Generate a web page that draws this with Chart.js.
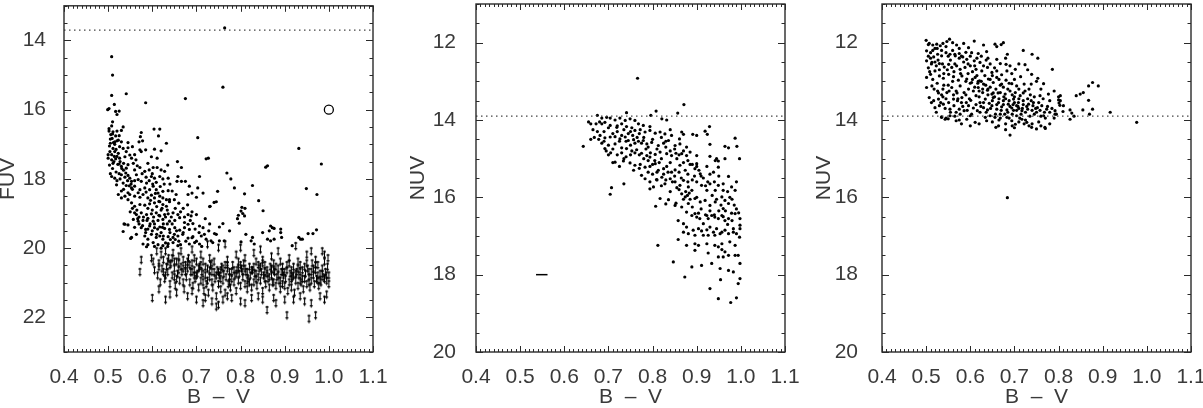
<!DOCTYPE html>
<html><head><meta charset="utf-8">
<script src="https://cdn.jsdelivr.net/npm/chart.js@4.4.1/dist/chart.umd.min.js"></script>
<style>
html,body{margin:0;padding:0;background:#fff;width:1203px;height:408px;overflow:hidden}
canvas{position:absolute;top:0}
</style></head><body>
<canvas id="c1" width="400" height="408" style="left:0px"></canvas>
<canvas id="c2" width="400" height="408" style="left:400px"></canvas>
<canvas id="c3" width="403" height="408" style="left:800px"></canvas>
<script>
// ---------------- data ----------------
const bvTicks = [0.4,0.5,0.6,0.7,0.8,0.9,1.0,1.1];
const fuvTicks = [14,16,18,20,22];
const nuvTicks = [12,14,16,18,20];
const fuvLimitLine = 13.7;
const nuvLimitLine = 13.9;
const fuvErrEllipse = [[1.0,16.0]];
const nuvErrBar = [[0.536,18.0],[0.562,18.0]];

// Panel 1: FUV detections (B-V, FUV)
const fuvDots = [
[0.764,13.64],[0.508,14.47],[0.51,15.0],[0.508,15.59],[0.514,15.85],[0.502,15.97],[0.499,16.0],[0.517,16.05],[0.525,16.04],[0.52,16.14],[0.541,15.54],[0.585,15.8],[0.675,15.68],[0.76,15.35],[0.703,16.81],[0.722,17.42],[0.727,17.4],[0.932,17.12],[0.983,17.57],[0.857,17.66],[0.861,17.62],[0.769,17.83],[0.778,18.0],[0.786,18.26],[0.827,18.19],[0.809,18.43],[0.949,18.28],[0.973,18.45],[0.841,18.63],[0.851,18.92],[0.81,18.85],[0.805,19.0],[0.793,19.15],[0.797,19.28],[0.748,18.36],[0.74,18.68],[0.73,18.8],
[0.508,16.47],[0.502,16.62],[0.511,16.64],[0.52,16.62],[0.534,16.5],[0.517,16.76],[0.509,16.83],[0.523,16.88],[0.515,16.93],[0.505,16.97],[0.53,16.93],[0.526,17.07],[0.511,17.12],[0.504,17.21],[0.515,17.21],[0.523,17.26],[0.534,17.12],[0.545,17.1],[0.555,17.07],[0.541,17.21],[0.549,17.31],[0.5,17.4],[0.508,17.45],[0.517,17.42],[0.526,17.4],[0.538,17.36],[0.553,17.4],[0.563,17.45],[0.575,16.66],[0.573,16.78],[0.578,16.9],[0.57,16.93],[0.572,17.16],[0.575,17.21],[0.585,17.16],[0.604,16.56],[0.617,16.56],[0.614,16.76],[0.605,17.14],[0.62,17.19],[0.632,16.97],[0.598,17.36],[0.611,17.4],[0.511,17.55],[0.525,17.57],[0.53,17.64],[0.541,17.69],[0.545,17.59],[0.56,17.74],[0.572,17.67],[0.583,17.78],[0.593,17.74],[0.602,17.67],[0.611,17.67],[0.62,17.74],[0.628,17.78],[0.508,17.93],[0.515,17.98],[0.53,17.88],[0.54,17.83],[0.549,17.98],[0.553,18.07],[0.564,17.88],[0.568,18.02],[0.575,18.07],[0.587,18.12],[0.598,17.93],[0.605,17.98],[0.617,17.93],[0.624,18.0],[0.636,17.98],[0.519,18.17],[0.534,18.12],[0.541,18.19],[0.553,18.26],[0.56,18.21],[0.572,18.31],[0.583,18.26],[0.594,18.31],[0.602,18.21],[0.609,18.31],[0.613,18.41],[0.624,18.36],[0.636,18.34],[0.523,18.45],[0.53,18.55],[0.538,18.5],[0.549,18.45],[0.56,18.5],[0.572,18.53],[0.579,18.45],[0.59,18.55],[0.598,18.47],[0.605,18.55],[0.617,18.5],[0.624,18.55],[0.632,18.6],[0.639,18.6],
[0.657,17.5],[0.666,17.67],[0.658,17.93],[0.656,18.07],[0.666,18.07],[0.675,18.07],[0.684,18.21],[0.703,18.26],[0.707,17.93],[0.654,18.45],[0.681,18.45],[0.69,18.41],[0.7,18.53],[0.715,18.41],
[0.553,18.69],[0.56,18.79],[0.572,18.74],[0.583,18.76],[0.594,18.72],[0.605,18.69],[0.617,18.66],[0.624,18.74],[0.632,18.79],[0.639,18.66],[0.538,19.31],[0.545,19.33],[0.534,19.52],[0.56,18.98],[0.564,19.03],[0.575,18.98],[0.587,19.03],[0.598,19.01],[0.609,18.98],[0.617,19.07],[0.628,19.03],[0.636,19.01],[0.647,18.98],[0.658,19.03],[0.681,19.03],[0.688,19.07],[0.7,19.03],[0.557,19.17],[0.568,19.22],[0.579,19.2],[0.59,19.14],[0.602,19.22],[0.613,19.2],[0.624,19.17],[0.639,19.22],[0.651,19.2],[0.662,19.12],[0.673,19.26],[0.681,19.31],[0.692,19.29],[0.553,19.69],[0.564,19.6],[0.575,19.41],[0.585,19.46],[0.594,19.36],[0.605,19.41],[0.617,19.39],[0.628,19.43],[0.639,19.46],[0.651,19.41],[0.662,19.48],[0.673,19.41],[0.684,19.46],[0.707,19.36],[0.715,19.41],[0.583,19.65],[0.59,19.74],[0.598,19.6],[0.609,19.69],[0.617,19.65],[0.624,19.74],[0.636,19.67],[0.647,19.69],[0.658,19.65],[0.669,19.6],[0.681,19.71],[0.692,19.67],[0.711,19.65],[0.722,19.74],[0.733,19.79],[0.745,19.6],[0.579,19.88],[0.587,19.96],[0.602,19.84],[0.613,19.9],[0.624,19.93],[0.636,19.87],[0.647,19.84],[0.658,19.93],[0.684,19.88],[0.696,19.84],[0.707,19.88],[0.737,19.84],[0.752,19.79],[0.763,19.79],
[0.745,18.66],[0.731,18.79],[0.76,19.29],[0.752,19.39],[0.741,19.58],[0.775,19.5],[0.812,19.6],[0.824,19.79],[0.801,19.82],[0.803,18.82],[0.801,18.93],[0.795,19.05],[0.809,19.07],
[0.868,19.36],[0.872,19.41],[0.876,19.43],[0.865,19.5],[0.891,19.45],[0.891,19.55],[0.893,19.69],[0.85,19.55],[0.861,19.74],[0.868,19.79],[0.876,19.74],[0.917,19.93],[0.932,19.69],[0.936,19.74],[0.94,19.74],[0.953,19.58],[0.964,19.58],[0.972,19.47],[0.827,19.69],[0.831,19.88],
[0.536,19.3],[0.551,19.72],
[0.555,18.85],[0.565,18.9],[0.57,19.1],[0.58,19.1],[0.59,18.85],[0.6,18.9],[0.595,19.3],[0.605,19.3],[0.615,19.05],[0.62,18.9],[0.625,19.3],[0.63,19.1],[0.61,18.8],[0.585,19.55],[0.6,19.5],[0.62,19.55],[0.64,19.55],[0.63,19.85],[0.65,19.6],[0.66,19.8],[0.545,18.6],[0.55,18.95],[0.56,19.4],[0.57,19.3],[0.59,19.45],[0.61,19.6],[0.625,19.65],[0.645,19.3],[0.655,19.5],[0.67,19.55],
[0.503,17.6],[0.51,17.7],[0.518,17.8],[0.505,17.85],[0.513,17.5],[0.52,17.35],[0.527,17.5],[0.535,17.55],[0.535,17.75],[0.545,17.9],[0.548,18.2],[0.555,18.3],[0.53,18.35],[0.527,18.0],[0.51,16.7],[0.505,16.85],[0.515,17.0],[0.52,16.9],[0.5,17.3],
[0.502,16.55],[0.506,16.72],[0.512,16.95],[0.518,17.15],[0.503,17.05],[0.508,17.3],[0.514,17.35],[0.522,17.58],[0.531,17.7],[0.538,17.95],[0.544,18.05],[0.552,18.15],[0.557,17.55],[0.566,17.62],[0.577,17.85],[0.586,17.95],[0.593,18.05],[0.601,18.15],[0.609,18.1],[0.618,18.22],[0.627,18.15],[0.56,18.05],[0.568,18.4],[0.586,18.38],[0.596,18.62],[0.607,18.42],[0.615,18.65],[0.622,18.85],[0.634,18.9],[0.643,19.1],[0.652,18.85],[0.664,18.95],[0.673,19.1],[0.686,19.2],[0.697,19.45],[0.706,19.55],[0.718,19.6],[0.728,19.5],[0.567,19.15],[0.578,19.35],[0.588,19.2],[0.603,19.1],[0.612,19.45],[0.623,19.4],[0.634,19.3],[0.641,19.75],[0.652,19.75],[0.664,19.9],[0.676,19.8],[0.69,19.7],[0.7,19.8],[0.712,19.95],[0.59,19.9],[0.605,19.95],[0.62,20.0],[0.635,19.95],[0.525,17.85],[0.52,18.05],[0.535,18.3],[0.545,18.4],[0.525,16.75],[0.51,16.35],[0.53,16.6],[0.545,16.95],[0.56,17.3],[0.59,17.55],[0.6,17.85],[0.635,17.6],[0.64,18.15],[0.645,18.35],[0.65,18.6],[0.66,18.7],[0.67,18.85],[0.68,18.75],[0.69,18.95],[0.72,19.15],[0.73,19.3]
];

// Panel 1: FUV upper limits (B-V, FUV)
const fuvLimits = [
[0.602,20.3],[0.605,20.55],[0.598,20.2],[0.61,20.0],[0.612,20.7],[0.615,20.35],[0.618,20.9],[0.62,20.1],[0.622,20.5],[0.625,20.25],[0.628,20.8],[0.63,20.0],[0.632,20.45],[0.635,20.6],[0.637,20.2],[0.64,20.95],[0.642,20.35],[0.645,20.7],[0.647,20.05],[0.65,20.5],[0.652,21.0],[0.655,20.3],[0.657,20.65],[0.66,20.15],[0.662,20.85],[0.665,20.45],[0.667,20.6],[0.67,20.25],[0.672,21.1],[0.675,20.4],[0.677,20.75],[0.68,20.5],[0.682,20.2],[0.685,20.9],[0.687,20.6],[0.69,20.35],[0.692,21.0],[0.695,20.55],[0.697,20.8],[0.7,20.3],[0.702,20.65],[0.705,21.05],[0.707,20.45],[0.71,20.85],[0.712,20.6],[0.715,20.3],[0.717,21.15],[0.72,20.7],[0.722,20.95],[0.725,20.5],[0.727,21.2],[0.73,20.75],[0.732,20.4],[0.735,20.9],[0.737,21.05],[0.74,20.6],[0.742,20.8],[0.745,21.3],[0.747,20.55],[0.75,20.95],[0.752,20.7],[0.755,21.1],[0.757,20.45],[0.76,20.85],[0.762,20.65],[0.765,21.2],[0.767,20.75],[0.77,20.5],[0.772,20.95],[0.775,20.6],[0.777,21.05],[0.78,20.8],[0.782,20.4],[0.785,20.9],[0.787,20.7],[0.79,21.15],[0.792,20.55],[0.795,20.85],[0.797,20.65],[0.8,21.0],[0.802,20.5],[0.805,20.75],[0.807,20.35],[0.81,20.95],[0.812,20.6],[0.815,21.1],[0.817,20.8],[0.82,20.45],[0.822,20.7],[0.825,21.05],[0.827,20.55],[0.83,20.9],[0.832,20.65],[0.835,20.3],[0.837,21.0],[0.84,20.75],[0.842,20.5],[0.845,20.85],[0.847,20.6],[0.85,21.15],[0.852,20.7],[0.855,20.4],[0.857,20.95],[0.86,20.55],[0.862,20.8],[0.865,21.05],[0.867,20.45],[0.87,20.7],[0.872,20.9],[0.875,20.35],[0.877,20.6],[0.88,21.0],[0.882,20.75],[0.885,20.5],[0.887,20.85],[0.89,21.1],[0.892,20.6],[0.895,20.95],[0.897,20.7],[0.9,21.0],[0.902,20.8],[0.905,20.55],[0.907,21.15],[0.91,20.9],[0.912,20.65],[0.915,21.05],[0.917,20.75],[0.92,20.45],[0.922,21.2],[0.925,20.85],[0.927,20.6],[0.93,21.0],[0.932,20.7],[0.935,20.4],[0.937,20.9],[0.94,20.55],[0.942,21.1],[0.945,20.8],[0.947,20.65],[0.95,20.95],[0.952,20.5],[0.955,20.75],[0.957,21.05],[0.96,20.85],[0.962,20.35],[0.965,20.7],[0.967,20.95],[0.97,20.55],[0.972,20.8],[0.975,20.4],[0.977,21.0],[0.98,20.65],[0.982,20.9],[0.985,20.5],[0.987,20.75],[0.99,20.3],[0.992,20.6],[0.995,20.85],[0.997,20.45],[1.0,20.7],[1.0,20.95],[0.998,20.2],
[0.64,20.4],[0.66,20.55],[0.68,20.3],[0.7,20.7],[0.72,20.45],[0.74,20.3],[0.76,20.5],[0.78,20.6],[0.8,20.4],[0.82,20.9],[0.84,20.4],[0.86,20.65],[0.88,20.45],[0.9,20.6],[0.92,20.7],[0.94,20.8],[0.96,20.6],[0.98,20.85],[0.655,20.8],[0.675,20.6],[0.695,20.2],[0.715,20.9],[0.735,20.6],[0.755,20.8],[0.775,20.9],[0.795,20.5],[0.815,20.6],[0.835,20.8],[0.855,20.8],[0.875,20.9],[0.895,20.45],[0.915,20.8],[0.935,20.85],[0.955,20.9],[0.975,20.7],[0.995,20.7],
[0.645,20.2],[0.665,20.0],[0.69,19.95],[0.71,20.1],[0.73,20.2],[0.75,19.9],[0.77,20.25],[0.79,20.1],[0.81,20.2],[0.83,20.05],[0.85,20.25],[0.87,20.15],[0.89,20.3],[0.91,20.2],[0.93,20.3],[0.95,20.1],[0.97,20.25],[0.99,20.1],[0.725,19.8],[0.765,19.8],[0.8,19.9],[0.845,19.95],[0.885,20.0],[0.925,19.85],[0.96,20.0],[0.985,20.0],
[0.572,20.6],[0.6,21.35],[0.615,21.1],[0.64,21.25],[0.655,21.2],[0.68,21.3],[0.7,21.4],[0.715,21.5],[0.735,21.45],[0.745,21.6],[0.75,21.55],[0.78,21.35],[0.8,21.45],[0.81,21.5],[0.84,21.3],[0.86,21.7],[0.88,21.5],[0.9,21.4],[0.905,21.85],[0.92,21.4],[0.935,21.3],[0.955,21.95],[0.96,21.5],[0.97,21.85],[0.99,21.4],[0.995,21.25],[0.77,21.3],[0.825,21.35],[0.875,21.35],[0.945,21.45],[0.63,21.4],[0.69,21.15],[0.72,21.35],[0.76,21.4],[0.85,21.4],[0.98,21.3],[0.575,20.25],
[0.625,20.6],[0.635,20.3],[0.65,20.75],[0.66,20.35],[0.67,20.9],[0.685,20.4],[0.695,20.7],[0.705,20.5],[0.715,20.65],[0.725,20.85],[0.735,20.35],[0.745,20.7],[0.755,20.55],[0.765,20.4],[0.775,20.75],[0.785,20.55],[0.795,20.3],[0.805,20.6],[0.815,20.85],[0.825,20.55],[0.835,20.65],[0.845,20.45],[0.855,20.6],[0.865,20.75],[0.875,20.55],[0.885,20.7],[0.895,20.6],[0.905,20.4],[0.915,20.55],[0.925,20.65],[0.935,20.6],[0.945,20.45],[0.955,20.6],[0.965,20.5],[0.975,20.85],[0.985,20.65],[0.99,20.8],[0.97,20.4],[0.95,20.35],[0.93,20.5],[0.91,20.35],[0.89,20.85],[0.87,20.5],[0.85,20.35],[0.83,20.45],[0.81,20.5],[0.79,20.65],[0.77,20.4],[0.75,20.6],[0.73,20.55],[0.71,20.4],[0.69,20.6],[0.67,20.5],[0.65,20.3],[0.63,20.7],[0.615,20.45]
];

// Panel 2: NUV vs B-V (faint sample)
const nuvDotsA = [
[0.766,12.92],[0.741,13.81],[0.643,14.68],
[0.696,13.93],[0.704,13.95],[0.715,14.0],[0.726,13.95],[0.738,14.01],[0.749,13.97],[0.76,14.01],[0.768,14.1],[0.779,14.14],[0.794,14.17],[0.821,13.97],[0.832,14.0],[0.808,13.77],[0.796,13.88],[0.857,13.82],[0.871,13.6],
[0.685,14.1],[0.692,14.06],[0.704,14.14],[0.719,14.19],[0.73,14.1],[0.741,14.17],[0.753,14.2],[0.76,14.27],[0.772,14.25],[0.783,14.31],[0.794,14.27],[0.806,14.34],[0.817,14.31],[0.828,14.36],[0.84,14.25],[0.843,14.4],[0.866,14.31],[0.87,14.37],[0.891,14.37],[0.919,14.29],[0.929,14.17],[0.924,14.37],[0.987,14.47],
[0.681,14.4],[0.692,14.46],[0.704,14.44],[0.715,14.43],[0.726,14.49],[0.738,14.44],[0.745,14.53],[0.757,14.51],[0.768,14.55],[0.779,14.53],[0.787,14.62],[0.798,14.58],[0.813,14.66],[0.825,14.6],[0.836,14.53],[0.851,14.66],[0.862,14.62],[0.861,14.49],[0.877,14.7],[0.9,14.4],[0.93,14.63],[0.964,14.68],[0.972,14.72],[0.991,14.68],
[0.715,14.62],[0.73,14.72],[0.741,14.74],[0.753,14.8],[0.764,14.77],[0.775,14.86],[0.787,14.92],[0.794,14.96],[0.806,14.89],[0.817,14.83],[0.832,14.87],[0.843,14.92],[0.853,14.86],[0.866,14.87],[0.877,14.92],[0.885,14.83],[0.9,14.92],[0.93,14.94],[0.942,15.05],[0.949,15.06],[0.945,15.0],[0.964,15.0],[0.997,15.0],
[0.692,14.74],[0.715,15.09],[0.734,15.06],[0.749,15.11],[0.76,15.17],[0.772,15.15],[0.783,15.22],[0.794,15.2],[0.806,15.13],[0.813,15.3],[0.825,15.26],[0.832,15.2],[0.843,15.35],[0.851,15.29],[0.862,15.17],[0.874,15.3],[0.885,15.15],[0.896,15.26],[0.9,15.13],[0.908,15.39],[0.923,15.2],[0.938,15.35],[0.949,15.22],[0.972,15.46],
[0.757,15.3],[0.775,15.43],[0.783,15.52],[0.794,15.6],[0.809,15.54],[0.821,15.48],[0.828,15.65],[0.84,15.52],[0.851,15.6],[0.862,15.69],[0.87,15.56],[0.881,15.73],[0.889,15.82],[0.9,15.6],[0.911,15.69],[0.923,15.82],[0.93,15.65],[0.942,15.82],[0.949,15.69],[0.96,15.82],[0.979,15.73],[0.987,15.82],
[0.707,15.75],[0.704,15.92],[0.735,15.65],[0.794,15.78],[0.802,15.73],[0.817,16.03],[0.836,16.06],[0.866,15.91],[0.874,15.99],[0.879,15.95],[0.883,15.89],[0.896,16.03],[0.908,16.12],[0.919,16.08],[0.93,16.21],[0.942,16.12],[0.957,15.99],[0.964,16.08],[0.972,16.16],[0.96,16.29],[0.851,16.21],[0.866,16.25],[0.881,16.16],
[0.655,14.05],[0.66,14.1],[0.665,14.25],[0.668,14.45],[0.672,14.1],[0.675,14.3],[0.678,14.5],[0.68,14.05],[0.66,14.5],[0.685,14.6],[0.69,14.3],[0.695,14.8],[0.69,14.55],[0.7,14.65],[0.675,13.88],[0.685,13.95],[0.7,14.9],[0.705,14.85],[0.71,15.1],[0.72,14.9],[0.725,15.2],[0.735,15.0],
[0.807,16.23],[0.83,16.17],[0.853,16.15],[0.877,16.38],[0.889,16.47],[0.896,16.42],[0.9,16.51],[0.904,16.41],[0.907,16.55],[0.915,16.68],[0.923,16.47],[0.926,16.55],[0.934,16.47],[0.941,16.51],[0.949,16.55],[0.957,16.47],[0.964,16.6],[0.972,16.55],[0.979,16.41],[0.987,16.42],[0.998,16.55],[0.998,16.72],[0.998,16.81],
[0.858,16.6],[0.87,16.68],[0.877,16.77],[0.892,16.85],[0.904,16.81],[0.911,16.87],[0.923,16.84],[0.93,16.77],[0.938,16.9],[0.945,16.81],[0.957,16.9],[0.964,16.85],[0.972,16.94],[0.983,16.9],[0.99,16.94],[0.87,16.9],[0.881,16.94],[0.896,16.98],[0.915,16.98],[0.926,16.98],[0.941,16.98],[0.953,16.94],[0.983,16.81],[0.997,17.03],
[0.812,17.24],[0.858,17.09],[0.877,17.24],[0.896,17.2],[0.904,17.24],[0.923,17.2],[0.941,17.24],[0.957,17.2],[0.975,17.15],[0.987,17.24],[0.896,17.37],[0.926,17.44],[0.949,17.28],[0.957,17.35],[0.964,17.41],[0.972,17.5],[0.949,17.54],[0.96,17.54],[0.987,17.5],[0.994,17.5],[0.998,17.71],
[0.847,17.67],[0.889,17.8],[0.911,17.76],[0.934,17.71],[0.953,17.84],[0.972,17.89],[0.983,17.93],[0.873,18.06],[0.998,18.1],[0.994,18.23],[0.954,18.13],[0.93,18.36],[0.949,18.62],[0.977,18.72],[0.99,18.6],
[0.72,14.3],[0.735,14.25],[0.745,14.35],[0.755,14.4],[0.765,14.45],[0.775,14.6],[0.785,14.75],[0.795,14.85],[0.805,15.05],[0.815,15.1],[0.825,15.4],[0.835,15.35],[0.845,15.6],[0.855,15.75],[0.865,15.5],[0.875,15.85],[0.885,16.05],[0.895,15.45],[0.725,14.55],[0.75,14.65],[0.77,14.9],[0.79,15.05],[0.8,15.4],[0.81,15.55],[0.82,15.0],[0.83,14.7],[0.84,15.1],[0.855,15.0],[0.86,15.35],[0.87,15.1],[0.88,15.4],[0.89,15.55],[0.905,15.3],[0.915,15.5],[0.925,15.6],[0.935,15.95],[0.945,16.05],[0.955,16.2],[0.965,16.35],[0.975,16.0],[0.985,16.2],[0.99,15.6],[0.995,16.4],
[0.7,14.2],[0.71,14.35],[0.72,14.15],[0.73,14.4],[0.74,14.55],[0.75,14.3],[0.76,14.6],[0.77,14.35],[0.78,14.45],[0.79,14.7],[0.8,14.5],[0.81,14.75],[0.82,14.45],[0.83,14.55],[0.84,14.8],[0.85,14.75],[0.86,14.9],[0.87,14.8],[0.88,15.05],[0.89,15.15],[0.9,15.2],[0.91,15.45],[0.92,15.7],[0.93,15.4],[0.94,15.6],[0.95,15.45],[0.96,15.65],[0.97,15.85],[0.98,16.05],[0.99,16.3],[0.77,15.25],[0.78,15.0],[0.79,15.35],[0.8,15.15],[0.81,15.35],[0.82,15.7],[0.83,15.55],[0.84,15.85],[0.85,15.45],[0.86,15.8],[0.87,16.05],[0.88,15.6],[0.89,16.25],[0.9,16.0],[0.91,16.3],[0.92,16.45],[0.93,16.35],[0.94,16.45],[0.95,16.35],[0.96,16.5],[0.97,16.7],[0.98,16.6],[0.75,14.9],[0.76,14.85],[0.74,14.95],[0.73,14.85],[0.71,14.75]
];

// Panel 3: NUV vs B-V (bright sample)
const nuvDotsB = [
[0.5,11.94],[0.507,12.02],[0.515,12.06],[0.524,12.04],[0.532,12.08],[0.538,12.02],[0.547,11.97],[0.553,11.91],[0.56,12.0],[0.569,12.06],[0.585,12.02],[0.609,11.96],[0.63,12.06],[0.656,12.04],[0.675,12.0],[0.684,12.3],[0.724,12.57],[0.753,12.4],[0.786,12.69],[0.596,12.13],[0.603,12.26],[0.618,12.28],[0.637,12.23],
[0.501,12.21],[0.51,12.26],[0.517,12.37],[0.526,12.3],[0.535,12.34],[0.545,12.26],[0.554,12.3],[0.566,12.34],[0.575,12.28],[0.583,12.37],[0.592,12.43],[0.609,12.47],[0.622,12.51],[0.636,12.45],[0.66,12.43],[0.668,12.54],[0.681,12.56],
[0.501,12.47],[0.513,12.51],[0.523,12.6],[0.53,12.54],[0.541,12.63],[0.551,12.56],[0.558,12.64],[0.569,12.6],[0.577,12.69],[0.588,12.64],[0.6,12.6],[0.613,12.69],[0.626,12.73],[0.639,12.64],[0.649,12.77],[0.66,12.73],[0.671,12.83],[0.683,12.73],[0.694,12.8],[0.702,12.69],[0.714,12.88],[0.739,12.82],[0.753,12.92],[0.766,13.06],
[0.501,12.9],[0.51,12.82],[0.52,12.73],[0.53,12.86],[0.539,12.92],[0.551,12.82],[0.562,12.88],[0.573,12.97],[0.581,12.86],[0.592,12.94],[0.603,13.03],[0.611,12.9],[0.621,12.99],[0.63,13.07],[0.641,12.94],[0.652,13.03],[0.66,12.9],[0.671,13.07],[0.681,12.97],[0.694,13.06],[0.705,13.12],[0.722,13.07],[0.738,13.07],
[0.501,13.16],[0.513,13.12],[0.526,13.25],[0.538,13.2],[0.547,13.29],[0.558,13.16],[0.568,13.25],[0.577,13.12],[0.586,13.29],[0.596,13.2],[0.607,13.25],[0.618,13.16],[0.628,13.29],[0.639,13.23],[0.649,13.33],[0.658,13.2],[0.668,13.29],[0.679,13.33],[0.69,13.25],[0.702,13.29],[0.713,13.37],[0.724,13.25],[0.736,13.35],
[0.507,13.42],[0.517,13.5],[0.528,13.46],[0.538,13.4],[0.551,13.55],[0.562,13.46],[0.571,13.5],[0.581,13.42],[0.591,13.55],[0.601,13.49],[0.613,13.37],[0.622,13.55],[0.634,13.46],[0.643,13.57],[0.652,13.42],[0.664,13.55],[0.675,13.5],[0.686,13.59],[0.698,13.46],[0.709,13.55],[0.72,13.5],[0.732,13.59],[0.743,13.55],[0.758,13.37],[0.777,13.33],[0.804,13.37],[0.804,13.5],
[0.52,13.68],[0.53,13.63],[0.539,13.59],[0.554,13.72],[0.563,13.63],[0.575,13.72],[0.586,13.76],[0.596,13.63],[0.607,13.69],[0.616,13.76],[0.63,13.68],[0.639,13.74],[0.649,13.63],[0.66,13.72],[0.671,13.66],[0.683,13.74],[0.694,13.69],[0.705,13.63],[0.717,13.76],[0.73,13.72],[0.742,13.63],[0.752,13.68],[0.762,13.63],[0.773,13.72],[0.792,13.76],[0.811,13.63],[0.826,13.74],
[0.84,13.37],[0.849,13.33],[0.856,13.29],[0.868,13.12],[0.877,13.03],[0.89,13.12],[0.855,13.74],[0.868,13.49],[0.877,13.72],
[0.535,13.93],[0.543,13.98],[0.554,13.89],[0.568,14.02],[0.577,13.85],[0.592,13.98],[0.6,13.89],[0.611,14.06],[0.634,13.93],[0.645,13.89],[0.656,13.93],[0.658,14.19],[0.664,14.15],[0.683,13.93],[0.694,14.02],[0.705,13.89],[0.717,13.98],[0.728,14.06],[0.739,14.19],[0.75,14.23],[0.766,13.89],[0.769,14.19],[0.792,13.85],[0.826,13.98],[0.69,14.39],[0.917,13.8],[0.622,13.8],[0.668,13.85],[0.637,14.02],[0.702,14.11],
[0.555,12.45],[0.565,12.55],[0.575,12.4],[0.585,12.5],[0.595,12.8],[0.605,12.75],[0.615,12.85],[0.625,13.0],[0.635,13.1],[0.645,13.15],[0.655,13.4],[0.665,13.45],[0.675,13.6],[0.685,13.8],[0.695,13.85],[0.705,13.75],[0.715,13.85],[0.725,13.8],[0.735,13.9],[0.745,13.85],[0.62,13.4],[0.63,13.55],[0.64,13.35],[0.65,13.5],[0.66,13.6],[0.67,13.75],[0.68,13.45],[0.69,13.65],[0.7,13.4],[0.71,13.7],[0.6,13.05],[0.61,13.15],[0.62,13.25],[0.59,13.35],[0.58,13.55],[0.57,13.3],[0.56,13.0],[0.55,13.1],[0.54,12.8],[0.53,12.7],[0.52,12.5],[0.51,12.4],[0.505,12.65],[0.515,12.95],[0.525,13.05],[0.535,13.35],[0.545,13.45],[0.555,13.8],[0.565,13.9],[0.575,14.0],[0.52,12.15],[0.545,12.1],[0.56,12.2],[0.575,12.15],[0.59,12.25],[0.6,12.35],[0.615,12.4],[0.63,12.6],[0.645,12.55],[0.655,12.65],[0.665,12.95],[0.675,13.15],[0.685,13.2],[0.695,13.35],[0.7,13.55],[0.71,13.45],[0.72,13.6],[0.73,13.45],[0.74,13.75],[0.75,13.8],[0.76,13.9],[0.77,13.95],[0.78,14.1],[0.755,14.05],[0.74,14.1],[0.725,14.0],[0.71,14.05],[0.695,14.15],[0.68,14.1],[0.665,14.0],[0.65,14.05],[0.545,13.95],[0.55,13.97],[0.535,13.92],
[0.8,13.4],[0.8,13.48],[0.801,13.56],[0.803,13.62],[0.81,13.78],[0.83,13.82],[0.835,13.9],[0.977,14.06],[0.684,16.01],[0.78,13.8],[0.79,13.95],[0.76,14.15],[0.77,14.22],[0.87,13.85],[0.72,12.2],[0.74,12.3],[0.71,12.55],[0.73,12.7],[0.75,13.0],[0.76,13.2],[0.78,13.5],[0.79,13.25],[0.67,12.05],[0.66,12.1],[0.68,12.4],[0.69,12.6],
[0.505,12.05],[0.515,12.2],[0.525,12.15],[0.535,12.2],[0.55,12.35],[0.565,12.3],[0.58,12.35],[0.595,12.55],[0.61,12.6],[0.625,12.35],[0.64,12.4],[0.65,12.85],[0.505,12.35],[0.512,12.55],[0.527,12.45],[0.537,12.55],[0.548,12.7],[0.563,12.75],[0.578,12.8],[0.59,13.0],[0.605,12.95],[0.617,13.05],[0.628,13.2],[0.64,13.2],[0.652,13.3],[0.663,13.3],[0.676,13.4],[0.688,13.5],[0.697,13.6],[0.708,13.65],[0.718,13.7],[0.728,13.65],[0.738,13.5],[0.748,13.7],[0.758,13.75],[0.768,13.8],[0.508,12.75],[0.518,13.2],[0.528,13.3],[0.54,13.1],[0.552,13.25],[0.562,13.35],[0.572,13.45],[0.583,13.65],[0.593,13.75],[0.603,13.85],[0.613,13.6],[0.624,13.65],[0.636,13.8],[0.646,13.7],[0.657,13.85],[0.668,13.95],[0.678,13.85],[0.688,13.95],[0.698,13.75],[0.712,13.95],[0.722,14.1],[0.733,14.15],[0.512,13.55],[0.523,13.8],[0.533,13.55],[0.543,13.7],[0.568,13.8],[0.598,13.45],[0.618,13.0],[0.633,12.85],[0.645,12.95],[0.668,13.1],[0.688,13.05],[0.7,12.95],[0.71,13.2],[0.72,13.3],[0.733,13.2],[0.745,13.4],[0.755,13.55],[0.765,13.45],[0.775,13.65],[0.785,13.7],[0.795,13.85],[0.7,14.2],[0.68,14.25],[0.62,14.1],[0.6,14.15],[0.58,14.1]
];

// ---------------- drawing ----------------
const FONT = "'Liberation Sans', Arial, sans-serif";
const TXT = '#3a3a3a';
const AX = '#2a2a2a';
const pts = a => a.map(p => ({x: p[0], y: p[1]}));

function arrowSymbol() {
  const c = document.createElement('canvas');
  c.width = 5; c.height = 18;
  const g = c.getContext('2d');
  g.fillStyle = '#000'; g.strokeStyle = '#000'; g.lineWidth = 1.1;
  g.beginPath(); g.arc(2.5, 9, 1.3, 0, Math.PI * 2); g.fill();
  g.beginPath(); g.moveTo(2.5, 9); g.lineTo(2.5, 15.5); g.stroke();
  g.beginPath(); g.moveTo(0.8, 14); g.lineTo(4.2, 14); g.lineTo(2.5, 17); g.closePath(); g.fill();
  return c;
}
const ARROW = arrowSymbol();

function bvLabel(v) {
  const t = bvTicks.find(b => Math.abs(b - v) < 1e-6);
  return t !== undefined ? t.toFixed(1) : '';
}
function magLabel(list) {
  return v => { const t = list.find(b => Math.abs(b - v) < 1e-6); return t !== undefined ? String(t) : ''; };
}

const framePlugin = {
  id: 'frame',
  afterDraw(chart) {
    const {ctx, chartArea: a, scales: {x, y}} = chart;
    ctx.save();
    ctx.strokeStyle = AX;
    ctx.lineWidth = 1.4;
    ctx.strokeRect(a.left, a.top, a.right - a.left, a.bottom - a.top);
    ctx.lineWidth = 1;
    ctx.beginPath();
    x.ticks.forEach(t => {
      const px = Math.round(x.getPixelForValue(t.value)) + 0.5;
      const len = t.label ? 6 : 3;
      ctx.moveTo(px, a.bottom); ctx.lineTo(px, a.bottom - len);
      ctx.moveTo(px, a.top); ctx.lineTo(px, a.top + len);
    });
    y.ticks.forEach(t => {
      const py = Math.round(y.getPixelForValue(t.value)) + 0.5;
      const len = t.label ? 7 : 3.5;
      ctx.moveTo(a.left, py); ctx.lineTo(a.left + len, py);
      ctx.moveTo(a.right, py); ctx.lineTo(a.right - len, py);
    });
    ctx.stroke();
    ctx.restore();
  }
};

function dotSet(data) {
  return {data: pts(data), pointStyle: 'circle', pointRadius: 1.6, backgroundColor: '#000', borderWidth: 0, showLine: false};
}
function hline(v) {
  return {data: pts([[0.4, v], [1.1, v]]), showLine: true, borderColor: '#444', borderWidth: 1.2, borderDash: [1.5, 3.5], pointRadius: 0, fill: false};
}

function makeChart(id, cfg) {
  return new Chart(document.getElementById(id), {
    type: 'scatter',
    data: {datasets: cfg.datasets},
    options: {
      responsive: false, animation: false, events: [],
      layout: {padding: {left: 0, right: cfg.rightPad, top: 3, bottom: 0}},
      plugins: {legend: {display: false}, tooltip: {enabled: false}},
      scales: {
        x: {
          type: 'linear', min: 0.4, max: 1.1,
          grid: {display: false}, border: {display: false},
          ticks: {stepSize: 0.01, autoSkip: false, maxRotation: 0, minRotation: 0, padding: 5,
                  color: TXT, font: {family: FONT, size: 21}, callback: bvLabel},
          title: {display: true, text: 'B  \u2013  V', color: TXT, font: {family: FONT, size: 21, lineHeight: 1}, padding: 0},
          afterFit: s => { s.height = 56; s.paddingLeft = 0; s.paddingRight = 0; }
        },
        y: {
          type: 'linear', min: cfg.ymin, max: cfg.ymax, reverse: true,
          grid: {display: false}, border: {display: false},
          ticks: {stepSize: 0.5, autoSkip: false, padding: cfg.tickPad,
                  color: TXT, font: {family: FONT, size: 21}, callback: magLabel(cfg.labels)},
          title: {display: true, text: cfg.ytitle, color: TXT, font: {family: FONT, size: 21, lineHeight: 0.8}, padding: {top: cfg.titlePad, bottom: 0}},
          afterFit: s => { s.width = cfg.left; s.paddingTop = 0; s.paddingBottom = 0; }
        }
      }
    },
    plugins: [framePlugin]
  });
}

makeChart('c1', {
  left: 64, rightPad: 27, ymin: 13, ymax: 23, labels: fuvTicks, ytitle: 'FUV', tickPad: 10, titlePad: 0,
  datasets: [
    hline(fuvLimitLine),
    dotSet(fuvDots),
    {data: pts(fuvLimits), pointStyle: ARROW, pointRadius: 3, showLine: false},
    {data: pts(fuvErrEllipse), pointStyle: 'circle', pointRadius: 4.5, backgroundColor: 'rgba(0,0,0,0)', borderColor: '#000', borderWidth: 1.3, showLine: false}
  ]
});
makeChart('c2', {
  left: 76, rightPad: 15, ymin: 11, ymax: 20, labels: nuvTicks, ytitle: 'NUV', tickPad: 12, titlePad: 10,
  datasets: [
    hline(nuvLimitLine),
    dotSet(nuvDotsA),
    {data: pts(nuvErrBar), showLine: true, borderColor: '#000', borderWidth: 1.5, pointRadius: 0}
  ]
});
makeChart('c3', {
  left: 82, rightPad: 12, ymin: 11, ymax: 20, labels: nuvTicks, ytitle: 'NUV', tickPad: 16, titlePad: 16,
  datasets: [
    hline(nuvLimitLine),
    dotSet(nuvDotsB)
  ]
});
</script>
</body></html>
